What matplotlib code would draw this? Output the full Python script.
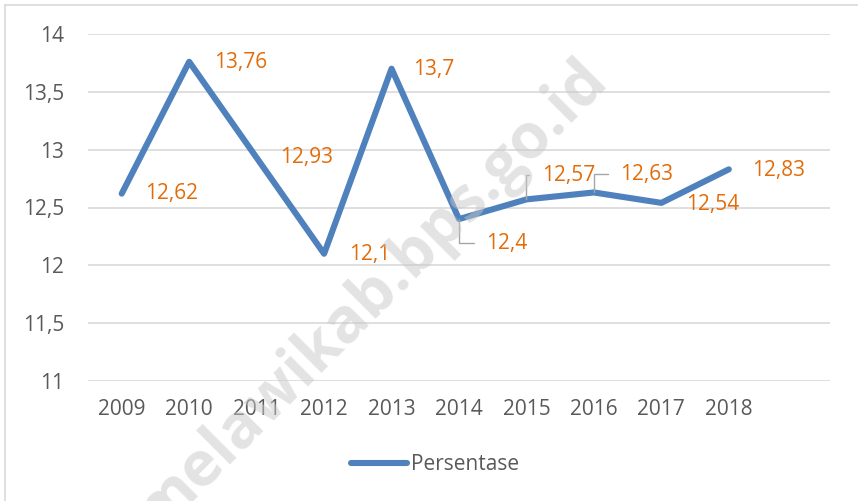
import numpy as np
import matplotlib
matplotlib.use("Agg")
import matplotlib.pyplot as plt
from matplotlib.lines import Line2D

plt.rcParams['font.family'] = ['Open Sans', 'DejaVu Sans']

# data
years = ['2009', '2010', '2011', '2012', '2013', '2014', '2015', '2016', '2017', '2018']
values = [12.62, 13.76, 12.93, 12.1, 13.7, 12.4, 12.57, 12.63, 12.54, 12.83]
labels = ['12,62', '13,76', '12,93', '12,1', '13,7', '12,4', '12,57', '12,63', '12,54', '12,83']
yticks = [11, 11.5, 12, 12.5, 13, 13.5, 14]
ytick_labels = ['11', '11,5', '12', '12,5', '13', '13,5', '14']

# label centre offsets in pixels (dx, dy) and whether a leader line is drawn
offsets = [(50, 0), (51, -1), (50, 0), (46, -1), (42, -1),
           (48, -24), (42, 24), (53, 18), (51, -2), (50, -1)]
leaders = [False, False, False, False, False, True, True, True, False, False]

line_col = '#4F81BD'
lab_col = '#E36C09'
txt_col = '#595959'

fig = plt.figure(figsize=(8.58, 5.01), dpi=100)
ax = fig.add_axes([88 / 858, 1 - 381 / 501, (830 - 88) / 858, (381 - 34) / 501])

# watermark
fig.text(0.432, 0.41, 'melawikab.bps.go.id', rotation=45, fontsize=45,
         fontweight='bold', color='#c8c8c8', alpha=0.5, ha='center', va='center',
         family=['Open Sans', 'DejaVu Sans'], zorder=0)

x = np.arange(len(years))
ax.plot(x, values, color=line_col, lw=4.4, solid_joinstyle='round',
        solid_capstyle='round', zorder=3)

for i in range(len(years)):
    dx, dy = offsets[i]
    if leaders[i]:
        ax.annotate(labels[i], (x[i], values[i]), xytext=(dx, dy),
                    textcoords='offset pixels', ha='center', va='center',
                    fontsize=15, color=lab_col, zorder=4,
                    arrowprops=dict(arrowstyle='-', color='#a6a6a6', lw=1.0,
                                    connectionstyle='angle,angleA=0,angleB=90,rad=0',
                                    relpos=(0, 0.5), shrinkA=7, shrinkB=0))
    else:
        ax.annotate(labels[i], (x[i], values[i]), xytext=(dx, dy),
                    textcoords='offset pixels', ha='center', va='center',
                    fontsize=15, color=lab_col, zorder=4)

ax.set_xlim(-0.5, 10.5)
ax.set_ylim(11, 14)
ax.set_xticks(x)
ax.set_xticklabels(years)
ax.set_yticks(yticks)
ax.set_yticklabels(ytick_labels)
ax.tick_params(axis='both', length=0, labelsize=15, labelcolor=txt_col)
ax.tick_params(axis='y', pad=17)
ax.tick_params(axis='x', pad=13)
ax.grid(axis='y', color='#d9d9d9', lw=1.2)
ax.set_axisbelow(True)
for s in ax.spines.values():
    s.set_visible(False)
ax.patch.set_alpha(0)

# legend
handle = Line2D([0], [0], color=line_col, lw=4.4, solid_capstyle='round')
fig.legend([handle], ['Persentase'], loc='center', bbox_to_anchor=(435 / 858, 1 - 465 / 501),
           frameon=False, fontsize=15, labelcolor=txt_col, handlelength=2.7,
           handletextpad=0.2)

# chart border (cropped on right and bottom)
fig.add_artist(Line2D([5 / 858, 5 / 858], [0, 1 - 5 / 501], color='#d9d9d9', lw=1.2))
fig.add_artist(Line2D([5 / 858, 1], [1 - 5 / 501, 1 - 5 / 501], color='#d9d9d9', lw=1.2))

fig.savefig('out.png', dpi=100)
